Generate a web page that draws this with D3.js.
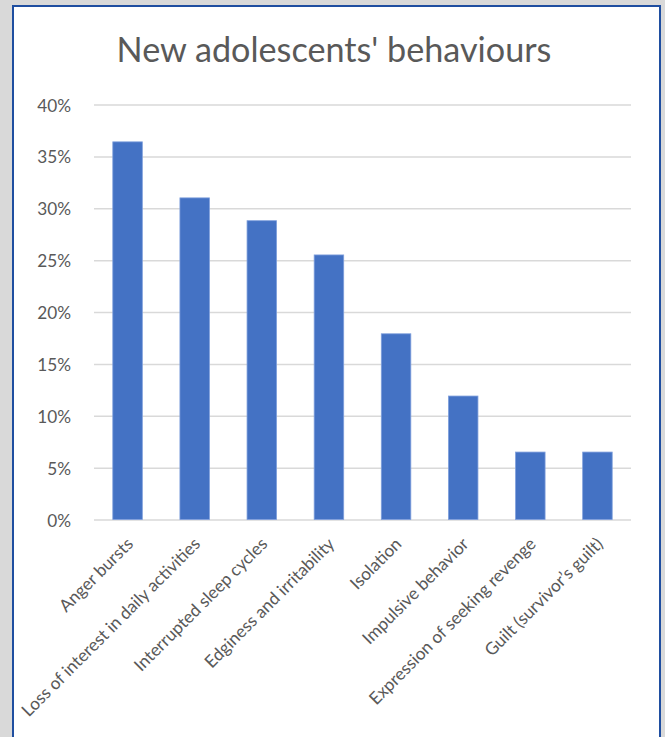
<!DOCTYPE html>
<html>
<head>
<meta charset="utf-8">
<script src="https://cdn.jsdelivr.net/npm/d3@7"></script>
<style>
  html, body { margin: 0; padding: 0; background: #d9d9d9; }
  svg { display: block; }
</style>
</head>
<body>
<svg id="chart" width="665" height="737"></svg>
<script>
// Chart data
const title = "New adolescents' behaviours";
const categories = [
  "Anger bursts",
  "Loss of interest in daily activities",
  "Interrupted sleep cycles",
  "Edginess and irritability",
  "Isolation",
  "Impulsive behavior",
  "Expression of seeking revenge",
  "Guilt (survivor\u2019s guilt)"
];
const values = [0.364, 0.310, 0.288, 0.255, 0.179, 0.119, 0.065, 0.065];
const yTicks = [0, 0.05, 0.10, 0.15, 0.20, 0.25, 0.30, 0.35, 0.40];

const FONT = "Lato, 'Open Sans', 'Noto Sans', sans-serif";
const TEXT = "#595959";
const BAR = "#4472c4";
const GRID = "#d9d9d9";

const svg = d3.select("#chart");

// Page background and chart frame
svg.append("rect").attr("width", 665).attr("height", 737).attr("fill", "#d9d9d9");
svg.append("rect")
  .attr("x", 13).attr("y", 6).attr("width", 647).attr("height", 760)
  .attr("fill", "#ffffff").attr("stroke", "#1f4ea0").attr("stroke-width", 2);

const plot = { left: 94, right: 631, top: 104.5, bottom: 519.5 };

const x = d3.scaleBand()
  .domain(categories)
  .range([plot.left, plot.right])
  .paddingInner(0.56)
  .paddingOuter(0.28);

const y = d3.scaleLinear()
  .domain([0, 0.4])
  .range([plot.bottom, plot.top]);

// Fit a text element's font size to a target length
function fitSize(sel, nominal, target) {
  sel.attr("font-size", nominal);
  const w = sel.node().getComputedTextLength();
  return nominal * target / w;
}

// Title
const t = svg.append("text")
  .attr("x", 334).attr("y", 62)
  .attr("text-anchor", "middle")
  .attr("font-family", FONT)
  .attr("fill", TEXT)
  .text(title);
t.attr("font-size", fitSize(t, 36, 435));

// Label size from the longest category label
const probe = svg.append("text").attr("font-family", FONT).text(categories[1]);
const labelSize = fitSize(probe, 18, 244);
probe.remove();

// Y axis with gridlines
const yAxis = d3.axisLeft(y)
  .tickValues(yTicks)
  .tickFormat(d3.format(".0%"))
  .tickSize(-(plot.right - plot.left))
  .tickPadding(23);

const gy = svg.append("g")
  .attr("transform", `translate(${plot.left},0)`)
  .call(yAxis);
gy.select(".domain").remove();
gy.selectAll(".tick line")
  .attr("stroke", GRID)
  .attr("stroke-width", 1.5);
gy.selectAll(".tick text")
  .attr("font-family", FONT)
  .attr("font-size", labelSize)
  .attr("fill", TEXT)
  .attr("dy", null)
  .attr("dominant-baseline", "central");

// Bars
svg.append("g")
  .selectAll("rect")
  .data(values)
  .join("rect")
  .attr("x", (d, i) => x(categories[i]))
  .attr("y", d => y(d))
  .attr("width", x.bandwidth())
  .attr("height", d => y(0) - y(d))
  .attr("fill", BAR)
  .attr("stroke", "#7f9fdc")
  .attr("stroke-width", 0.8);

// Category labels, rotated
svg.append("g")
  .selectAll("text")
  .data(categories)
  .join("text")
  .attr("transform", d => `translate(${x(d) + x.bandwidth() / 2 + 2},${plot.bottom + 21}) rotate(-45)`)
  .attr("text-anchor", "end")
  .attr("dominant-baseline", "central")
  .attr("font-family", FONT)
  .attr("font-size", labelSize)
  .attr("fill", TEXT)
  .text(d => d);
</script>
</body>
</html>
